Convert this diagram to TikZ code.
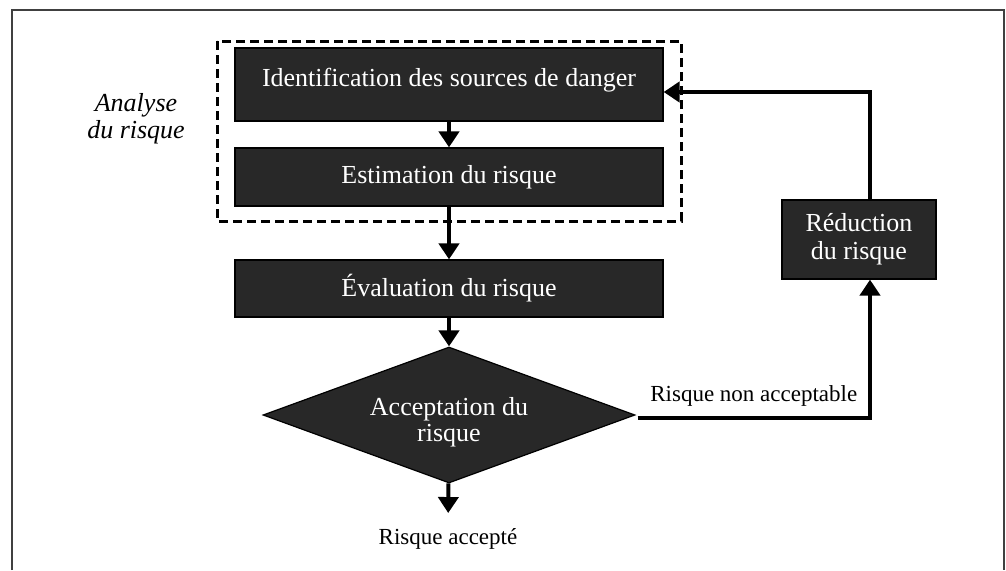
\documentclass[tikz,border=0pt]{standalone}
\usepackage{fontspec}
\setmainfont{Liberation Serif}
\usetikzlibrary{shapes.geometric,arrows.meta}
\definecolor{boxgray}{HTML}{282828}
\definecolor{framegray}{HTML}{404040}
\begin{document}
\begin{tikzpicture}[x=1pt, y=-1pt,
  block/.style = {draw=black, line width=1.2pt, fill=boxgray, text=white,
    minimum width=428pt, inner sep=0pt, font=\fontsize{26}{28}\selectfont},
  flow/.style = {line width=4pt, -{Triangle[width=20pt,length=16pt]}},
  note/.style = {font=\fontsize{23}{26}\selectfont}]
  \useasboundingbox (0,0) rectangle (1006,570);
  \draw[framegray, line width=2.5pt] (12,570) -- (12,10) -- (1004,10) -- (1004,570);
  \draw[dashed, line width=3pt, dash pattern=on 9pt off 5pt] (217,41) rectangle (681,221);
  \node[font=\itshape\fontsize{26}{27}\selectfont, align=center] (analyse) at (136,119) {Analyse\\du risque};
  \node[block, minimum height=73pt, text height=18pt, text depth=15pt] (ident) at (449,84.5) {Identification des sources de danger};
  \node[block, minimum height=58pt] (estim) at (449,177) {Estimation du risque};
  \node[block, minimum height=57pt] (eval) at (449,288.5) {Évaluation du risque};
  \node[block, shape=diamond, shape aspect=2.7, minimum width=372pt, minimum height=136pt, align=center,
    font=\fontsize{26}{26}\selectfont, text height=58pt] (accept) at (449,415) {Acceptation du\\risque};
  \node[block, minimum width=154pt, minimum height=79pt, align=center] (reduc) at (859,239.5) {Réduction\\du risque};
  \node[note] (ok) at (448,539) {Risque accepté};
  % connectors
  \draw[flow] (ident) -- (estim);
  \draw[flow] (estim) -- (eval);
  \draw[flow] (eval) -- (accept);
  \draw[flow, shorten >=12pt] (accept) -- (ok);
  \draw[flow] ([shift={(2pt,-3pt)}]accept.east) -| node[note, above=6pt, pos=0.25] (nonacc) {Risque non acceptable} ([xshift=11pt]reduc.south);
  \draw[flow] ([xshift=11pt]reduc.north) |- ([yshift=-7.5pt]ident.east);
\end{tikzpicture}
\end{document}
